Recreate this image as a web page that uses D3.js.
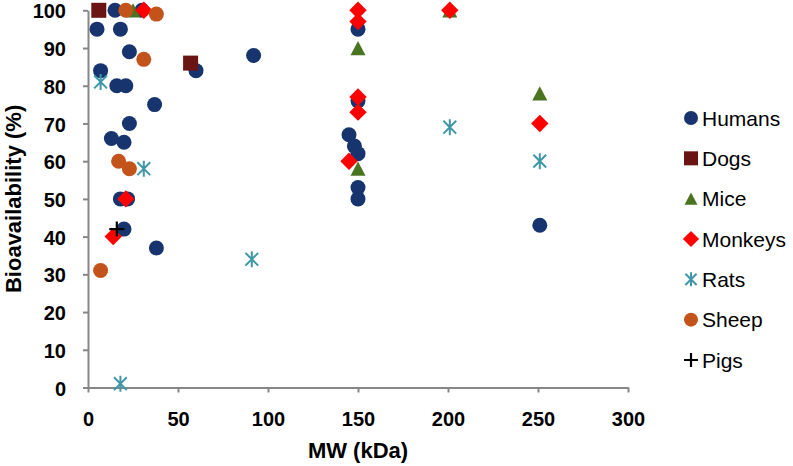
<!DOCTYPE html>
<html>
<head>
<meta charset="utf-8">
<script src="https://cdn.jsdelivr.net/npm/d3@7"></script>
<style>
  html, body { margin: 0; padding: 0; background: #ffffff; }
  svg { display: block; }
</style>
</head>
<body>
<svg id="chart" width="793" height="466"></svg>
<script>
// ---- data (MW in kDa, bioavailability in %) ----
const humansMW  = [5, 18, 23, 7, 16, 21, 37, 23, 13, 20, 60, 92, 15, 30, 18, 22, 20, 38, 150, 150, 145, 148, 150, 150, 150, 251];
const humansBio = [95, 95, 89, 84, 80, 80, 75, 70, 66, 65, 84, 88, 100, 100, 50, 50, 42, 37, 95, 76, 67, 64, 62, 53, 50, 43];
const dogsMW  = [6, 57];
const dogsBio = [100, 86];
const miceMW  = [25, 150, 150, 201, 251];
const miceBio = [100, 90, 58, 100, 78];
const monkeysMW  = [31, 21, 14, 150, 150, 150, 150, 145, 201, 251];
const monkeysBio = [100, 50, 40, 100, 97, 77, 73, 60, 100, 70];
const ratsMW  = [7, 31, 18, 91, 201, 251];
const ratsBio = [81, 58, 1, 34, 69, 60];
const sheepMW  = [21, 38, 31, 17, 23, 7];
const sheepBio = [100, 99, 87, 60, 58, 31];
const pigsMW  = [16];
const pigsBio = [42];

const seriesNames = ["Humans", "Dogs", "Mice", "Monkeys", "Rats", "Sheep", "Pigs"];
const xTicks = [0, 50, 100, 150, 200, 250, 300];
const yTicks = [0, 10, 20, 30, 40, 50, 60, 70, 80, 90, 100];
const xTitle = "MW (kDa)";
const yTitle = "Bioavailability (%)";

// ---- styles ----
const styles = {
  Humans:  { shape: "circle",   color: "#17346f" },
  Dogs:    { shape: "square",   color: "#6b1414" },
  Mice:    { shape: "triangle", color: "#4a7420" },
  Monkeys: { shape: "diamond",  color: "#ff0000" },
  Rats:    { shape: "asterisk", color: "#3f97a8" },
  Sheep:   { shape: "circle",   color: "#c2531b" },
  Pigs:    { shape: "plus",     color: "#000000" }
};

const seriesData = [
  { name: "Humans",  mw: humansMW,  bio: humansBio },
  { name: "Dogs",    mw: dogsMW,    bio: dogsBio },
  { name: "Mice",    mw: miceMW,    bio: miceBio },
  { name: "Monkeys", mw: monkeysMW, bio: monkeysBio },
  { name: "Rats",    mw: ratsMW,    bio: ratsBio },
  { name: "Sheep",   mw: sheepMW,   bio: sheepBio },
  { name: "Pigs",    mw: pigsMW,    bio: pigsBio }
];

const svg = d3.select("#chart");
const FONT = "'Liberation Sans', Arial, sans-serif";
const axisColor = "#878787";

const x = d3.scaleLinear().domain([0, 300]).range([88, 628]);
const y = d3.scaleLinear().domain([0, 100]).range([387.5, 10.3]);

// ---- axes ----
const yAxis = d3.axisLeft(y).tickValues(yTicks).tickSize(5).tickSizeOuter(0).tickPadding(17);
const gy = svg.append("g").attr("transform", `translate(${x(0)},0)`).call(yAxis);
const xAxis = d3.axisBottom(x).tickValues(xTicks).tickSize(5).tickSizeOuter(0).tickPadding(19);
const gx = svg.append("g").attr("transform", `translate(0,${y(0)})`).call(xAxis);

[gx, gy].forEach(g => {
  g.select(".domain").attr("stroke", axisColor).attr("stroke-width", 2);
  g.selectAll(".tick line").attr("stroke", axisColor).attr("stroke-width", 2);
  g.selectAll(".tick text")
    .attr("fill", "#000")
    .style("font-family", FONT)
    .style("font-weight", "bold")
    .style("font-size", "20px");
});
gy.selectAll(".tick text").attr("dy", "0.38em");

// ---- axis titles ----
svg.append("text")
  .attr("x", x(150)).attr("y", 458)
  .attr("text-anchor", "middle")
  .style("font-family", FONT).style("font-weight", "bold").style("font-size", "22px")
  .text(xTitle);

svg.append("text")
  .attr("transform", `translate(21,${(y(0) + y(100)) / 2}) rotate(-90)`)
  .attr("text-anchor", "middle")
  .style("font-family", FONT).style("font-weight", "bold").style("font-size", "22px")
  .text(yTitle);

// ---- marker drawing ----
function drawMarker(g, shape, color, cx, cy, s) {
  if (shape === "circle") {
    g.append("circle").attr("cx", cx).attr("cy", cy).attr("r", s / 2).attr("fill", color);
  } else if (shape === "square") {
    g.append("rect").attr("x", cx - s / 2).attr("y", cy - s / 2).attr("width", s).attr("height", s).attr("fill", color);
  } else if (shape === "triangle") {
    const h = s * 0.95;
    g.append("path")
      .attr("d", `M${cx},${cy - h / 2} L${cx + s / 2},${cy + h / 2} L${cx - s / 2},${cy + h / 2} Z`)
      .attr("fill", color);
  } else if (shape === "diamond") {
    const d = s * 0.58;
    g.append("path")
      .attr("d", `M${cx},${cy - d} L${cx + d},${cy} L${cx},${cy + d} L${cx - d},${cy} Z`)
      .attr("fill", color);
  } else if (shape === "asterisk") {
    const r = s / 2;
    const dx = r * 0.8;
    g.append("path")
      .attr("d", `M${cx},${cy - r} L${cx},${cy + r} M${cx - dx},${cy - dx} L${cx + dx},${cy + dx} M${cx - dx},${cy + dx} L${cx + dx},${cy - dx}`)
      .attr("stroke", color).attr("stroke-width", 2).attr("fill", "none");
  } else if (shape === "plus") {
    const r = s / 2;
    g.append("path")
      .attr("d", `M${cx},${cy - r} L${cx},${cy + r} M${cx - r},${cy} L${cx + r},${cy}`)
      .attr("stroke", color).attr("stroke-width", 2.2).attr("fill", "none");
  }
}

const sizes = { circle: 15, square: 15, triangle: 15, diamond: 15, asterisk: 16, plus: 15 };

const plot = svg.append("g").attr("class", "points");
seriesData.forEach(s => {
  const st = styles[s.name];
  const g = plot.append("g").attr("class", "series-" + s.name);
  s.mw.forEach((m, i) => {
    drawMarker(g, st.shape, st.color, x(m), y(s.bio[i]), sizes[st.shape]);
  });
});

// ---- legend ----
const legend = svg.append("g").attr("class", "legend");
const legendY = d3.scalePoint().domain(seriesNames).range([118, 360]);
seriesNames.forEach(name => {
  const st = styles[name];
  const cy = legendY(name);
  const lsize = { circle: 14, square: 14, triangle: 13, diamond: 14, asterisk: 14, plus: 14 }[st.shape];
  drawMarker(legend, st.shape, st.color, 691, cy, lsize);
  legend.append("text")
    .attr("x", 702).attr("y", cy).attr("dy", "0.36em")
    .style("font-family", FONT).style("font-size", "21px")
    .attr("fill", "#000")
    .text(name);
});
</script>
</body>
</html>
